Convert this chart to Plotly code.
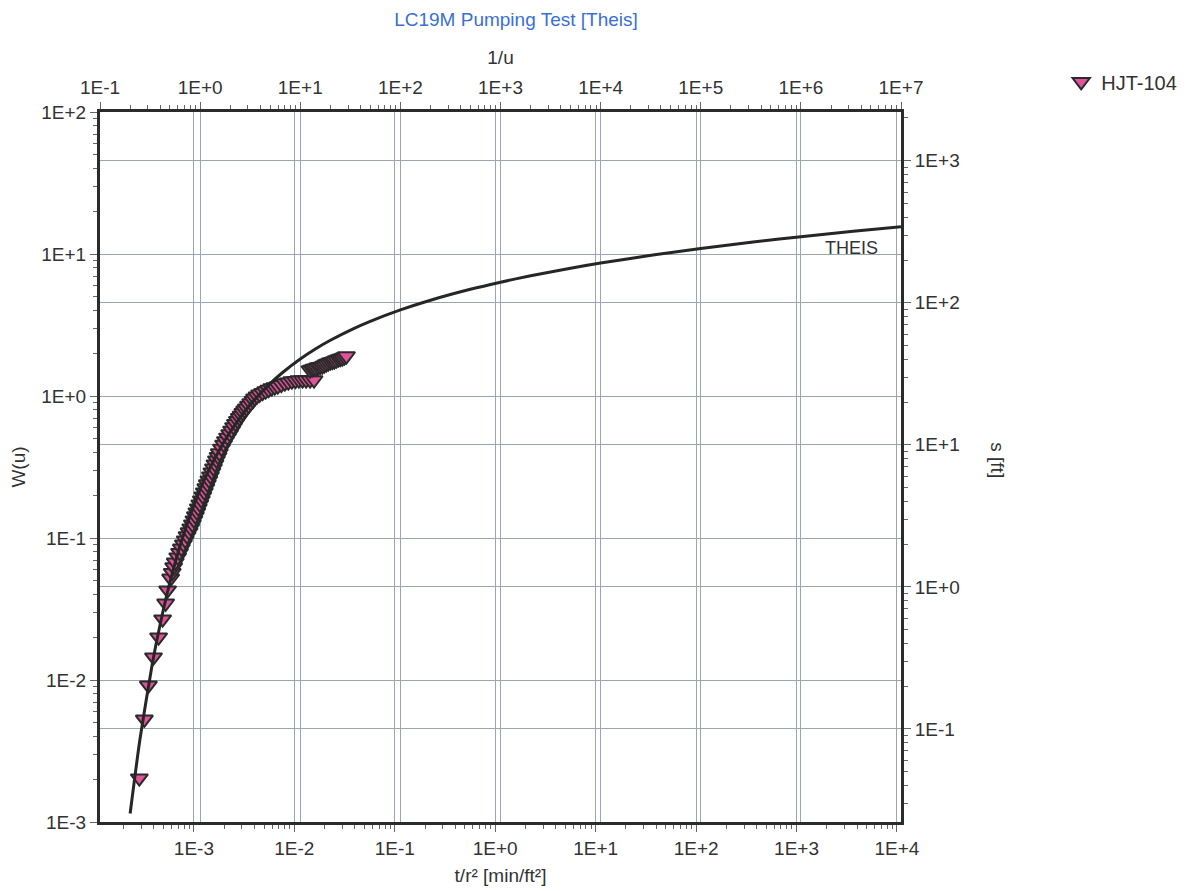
import plotly.graph_objects as go

# ---------------- data ----------------
chart_title = "LC19M Pumping Test [Theis]"
series_name = "HJT-104"
curve_label = "THEIS"

# Theis type curve: 1/u and W(u)
inv_u = [0.2, 0.25, 0.3333, 0.4, 0.5, 0.6667, 1.0, 1.25, 1.667, 2.0, 2.5, 3.333,
         5.0, 6.667, 10.0, 14.29, 20.0, 33.33, 50.0, 100.0, 200.0, 500.0, 1000.0,
         2000.0, 5000.0, 1.0e4, 3.333e4, 1.0e5, 3.333e5, 1.0e6, 3.333e6, 1.0e7]
w_u = [0.001148, 0.003779, 0.01305, 0.02491, 0.04890, 0.1000, 0.2194, 0.3106,
       0.4544, 0.5598, 0.7024, 0.9057, 1.2227, 1.4645, 1.8229, 2.1508, 2.4679,
       2.9591, 3.3547, 4.0379, 4.7261, 5.6394, 6.3315, 7.0242, 7.9402, 8.6332,
       9.837, 10.9357, 12.14, 13.2383, 14.44, 15.5409]

# Observation well HJT-104: t/r^2 [min/ft^2] and drawdown s [ft]
t_r2 = [2.86e-4, 3.21e-4, 3.52e-4, 3.96e-4, 4.45e-4, 4.88e-4, 5.23e-4, 5.47e-4,
        5.87e-4, 6.08e-4, 6.29e-4, 6.52e-4, 6.9e-4, 7.2e-4, 7.5e-4, 7.85e-4,
        8.2e-4, 8.55e-4, 8.95e-4, 9.3e-4, 9.65e-4, 1.0e-3, 1.035e-3, 1.07e-3,
        1.105e-3, 1.145e-3, 1.185e-3, 1.227e-3, 1.27e-3, 1.315e-3, 1.36e-3, 1.41e-3,
        1.46e-3, 1.51e-3, 1.565e-3, 1.62e-3, 1.675e-3, 1.74e-3, 1.79e-3, 1.88e-3,
        1.975e-3, 2.06e-3, 2.16e-3, 2.27e-3, 2.37e-3, 2.48e-3, 2.59e-3, 2.71e-3,
        2.83e-3, 2.95e-3, 3.07e-3, 3.2e-3, 3.33e-3, 3.5e-3, 3.68e-3, 3.88e-3,
        4.02e-3, 4.25e-3, 4.51e-3, 4.83e-3, 5.18e-3, 5.55e-3, 5.96e-3, 6.38e-3,
        6.84e-3, 7.42e-3, 8.04e-3, 8.72e-3, 9.46e-3, 1.026e-2, 1.11e-2, 1.206e-2,
        1.31e-2, 1.435e-2, 1.57e-2,
        1.435e-2, 1.503e-2, 1.57e-2, 1.649e-2, 1.73e-2, 1.809e-2, 1.90e-2, 1.985e-2,
        2.08e-2, 2.178e-2, 2.28e-2, 2.389e-2, 2.50e-2, 2.62e-2, 2.75e-2, 2.876e-2,
        3.01e-2, 3.155e-2, 3.30e-2]
s_ft = [0.045, 0.117, 0.203, 0.320, 0.443, 0.593, 0.767, 0.948,
        1.15, 1.26, 1.38, 1.49, 1.62, 1.74, 1.87, 2.00,
        2.13, 2.28, 2.43, 2.59, 2.76, 2.95, 3.15, 3.36,
        3.58, 3.82, 4.08, 4.35, 4.64, 4.96, 5.29, 5.64,
        6.02, 6.42, 6.85, 7.31, 7.80, 8.26, 8.75, 9.44,
        10.07, 10.66, 11.27, 11.94, 12.64, 13.38, 14.10, 14.8,
        15.5, 16.1, 16.8, 17.5, 18.1, 18.9, 19.7, 20.5,
        21.3, 22.0, 22.7, 23.3, 23.9, 24.5, 25.1, 25.5,
        25.9, 26.5, 27.2, 27.6, 28.1, 28.3, 28.6, 28.6,
        28.6, 28.6, 28.6,
        33.6, 34.1, 34.4, 34.7, 35.3, 35.5, 35.8, 36.4,
        37.0, 37.6, 38.2, 38.5, 38.9, 39.5, 40.1, 40.5,
        40.8, 41.5, 42.2]

top_tick_vals = [1e-1, 1e0, 1e1, 1e2, 1e3, 1e4, 1e5, 1e6, 1e7]
top_tick_text = ["1E-1", "1E+0", "1E+1", "1E+2", "1E+3", "1E+4", "1E+5", "1E+6", "1E+7"]
bottom_tick_vals = [1e-3, 1e-2, 1e-1, 1e0, 1e1, 1e2, 1e3, 1e4]
bottom_tick_text = ["1E-3", "1E-2", "1E-1", "1E+0", "1E+1", "1E+2", "1E+3", "1E+4"]
left_tick_vals = [1e-3, 1e-2, 1e-1, 1e0, 1e1, 1e2]
left_tick_text = ["1E-3", "1E-2", "1E-1", "1E+0", "1E+1", "1E+2"]
right_tick_vals = [1e-1, 1e0, 1e1, 1e2, 1e3]
right_tick_text = ["1E-1", "1E+0", "1E+1", "1E+2", "1E+3"]

# ---------------- styling ----------------
FONT = "Liberation Sans, Arial, sans-serif"
TXT = "#333333"
GRID = "#9aa6b2"
FRAME = "#2b2b2b"
TICKC = "#666666"
FS = 19


def minor_vals(lo, hi):
    vals = []
    for e in range(lo, hi + 1):
        for m in range(2, 10):
            vals.append(m * 10.0 ** e)
    return vals


def axis_style(tickvals, ticktext, rng, minor_lo, minor_hi):
    return dict(
        type="log", range=rng, tickmode="array", tickvals=tickvals, ticktext=ticktext,
        showgrid=True, gridcolor=GRID, gridwidth=1,
        showline=True, linecolor=FRAME, linewidth=3,
        ticks="outside", ticklen=7, tickcolor=TICKC, tickwidth=1,
        tickfont=dict(family=FONT, size=FS, color=TXT),
        minor=dict(tickmode="array", tickvals=minor_vals(minor_lo, minor_hi),
                   ticks="outside", ticklen=4, tickcolor=TICKC, showgrid=False),
        zeroline=False, fixedrange=True, automargin=False,
    )


fig = go.Figure()

# observed data on bottom (t/r^2) and right (s) axes
fig.add_trace(go.Scatter(
    x=t_r2, y=s_ft, xaxis="x", yaxis="y", mode="markers", name=series_name,
    marker=dict(symbol="triangle-down", size=15, color="#e0529a",
                line=dict(color="#2a2a2a", width=2.0)),
))

# Theis type curve on top (1/u) and left (W(u)) axes
fig.add_trace(go.Scatter(
    x=inv_u, y=w_u, xaxis="x2", yaxis="y2", mode="lines",
    line=dict(color="#262626", width=3, shape="spline", smoothing=0.6),
    showlegend=False, hoverinfo="skip",
))

xb = axis_style(bottom_tick_vals, bottom_tick_text, [-3.935, 4.04], -4, 4)
xb.update(side="bottom", anchor="y",
          title=dict(text="t/r² [min/ft²]", font=dict(family=FONT, size=FS, color=TXT), standoff=11))
xt = axis_style(top_tick_vals, top_tick_text, [-1, 7], -1, 6)
xt.update(overlaying="x", side="top", anchor="y2",
          title=dict(text="1/u", font=dict(family=FONT, size=FS, color=TXT), standoff=8))
yr = axis_style(right_tick_vals, right_tick_text, [-1.655, 3.343], -2, 3)
yr.update(side="right", anchor="x")
yl = axis_style(left_tick_vals, left_tick_text, [-3, 2], -3, 1)
yl.update(overlaying="y", side="left", anchor="x2",
          title=dict(text="W(u)", font=dict(family=FONT, size=FS, color=TXT), standoff=14))

# page has an 8px body margin; figure is sized/offset to compensate
fig.update_layout(
    width=1192, height=883, autosize=False,
    margin=dict(l=92, r=299, t=104, b=69, autoexpand=False),
    paper_bgcolor="white", plot_bgcolor="white",
    font=dict(family=FONT, size=FS, color=TXT),
    title=dict(text=chart_title, x=508 / 1192, xanchor="center", y=1 - 11 / 883,
               yanchor="middle", font=dict(family=FONT, size=19, color="#3a6fd8")),
    xaxis=xb, xaxis2=xt, yaxis=yr, yaxis2=yl,
    legend=dict(x=1.2, y=1.07, xanchor="left", yanchor="top",
                font=dict(family=FONT, size=20, color=TXT), bgcolor="rgba(0,0,0,0)"),
    annotations=[
        dict(text="s [ft]", x=1.135, y=0.51, xref="paper", yref="paper", showarrow=False,
             textangle=90, font=dict(family=FONT, size=FS, color=TXT)),
        dict(text=curve_label, x=6.508, y=1.042, xref="x2", yref="y2", showarrow=False,
             font=dict(family=FONT, size=18, color=TXT)),
    ],
)

fig.write_html("out.html")
